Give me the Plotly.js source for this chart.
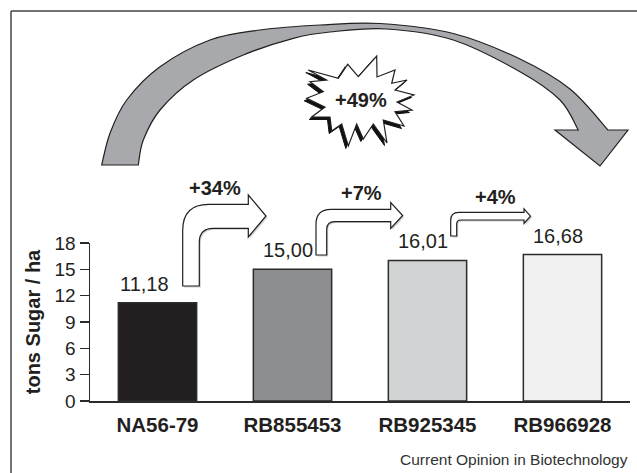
<!DOCTYPE html>
<html>
<head>
<meta charset="utf-8">
<script src="https://cdn.plot.ly/plotly-3.0.1.min.js"></script>
<style>html,body{margin:0;padding:0;background:#fff;}#chart{width:637px;height:473px;}</style>
</head>
<body>
<div id="chart"></div>
<script>
// ---- data ----
const varieties = ['NA56-79', 'RB855453', 'RB925345', 'RB966928'];
const yields = [11.18, 15.00, 16.01, 16.68];
const yieldLabels = ['11,18', '15,00', '16,01', '16,68'];
const stepGains = ['+34%', '+7%', '+4%'];
const totalGain = '+49%';
const yTickVals = [0, 3, 6, 9, 12, 15, 18];
const yTitle = 'tons Sugar / ha';
const footer = 'Current Opinion in Biotechnology';

// ---- styling / layout helpers ----
const barColors = ['#231f20', '#8d8e90', '#d1d2d4', '#f1f1f2'];
const FONT = 'Arial, "Liberation Sans", Helvetica, sans-serif';
const W = 637, H = 473, ML = 90, MR = 7, MT = 243, MB = 72;
const PW = W - ML - MR, PH = H - MT - MB;
const X = px => (px - ML) / PW;
const Y = py => (H - MB - py) / PH;

function buildPath(segs) {
  return segs.map(s => {
    const c = s[0];
    if (c === 'Z') return 'Z';
    const out = [];
    for (let i = 1; i < s.length; i += 2) out.push(X(s[i]).toFixed(5) + ',' + Y(s[i + 1]).toFixed(5));
    return c + out.join(' ');
  }).join(' ');
}
function smoothSegs(pts) {
  const segs = [];
  for (let i = 0; i < pts.length - 1; i++) {
    const p0 = pts[Math.max(0, i - 1)], p1 = pts[i], p2 = pts[i + 1], p3 = pts[Math.min(pts.length - 1, i + 2)];
    segs.push(['C',
      p1[0] + (p2[0] - p0[0]) / 6, p1[1] + (p2[1] - p0[1]) / 6,
      p2[0] - (p3[0] - p1[0]) / 6, p2[1] - (p3[1] - p1[1]) / 6,
      p2[0], p2[1]]);
  }
  return segs;
}

// big curved arrow
const outerPts = [[101.7,165],[110,133.3],[126.7,100],[160,66.7],[210,40],[260,30],[320,25],[380,23.5],[453.3,33.5],[520,59],[570,89],[608,130]];
const innerPts = [[138.3,165],[143.3,140],[160,110],[193.3,80],[243.3,55],[293.3,38.3],[330,32],[386.7,29],[453.3,40],[520,71.7],[560,100],[578.3,130]];
const innerRev = innerPts.slice().reverse();
const bigArrowSegs = [['M', outerPts[0][0], outerPts[0][1]]]
  .concat(smoothSegs(outerPts))
  .concat([['L', 628, 130], ['L', 600, 166], ['L', 555, 130], ['L', innerRev[0][0], innerRev[0][1]]])
  .concat(smoothSegs(innerRev))
  .concat([['Z']]);

// starburst
const starPts = [[308.3,70],[338.3,78.3],[347.7,64.3],[358.3,76.7],[376.7,56],[377,77],[395,70],[391.7,83.3],[407,80],[395,90],[414,95],[397,102],[412,110],[395,111.7],[404,126],[383.3,120],[387,143],[373.3,124],[363.3,139],[356.7,124],[348.3,146],[341.7,124],[331.7,131],[330,117],[311.7,117],[325,107],[306.7,98.3],[323.3,91.7],[310,81.7],[326.7,80]];
function starSegs(dx, dy) {
  const s = starPts.map((p, i) => [i === 0 ? 'M' : 'L', p[0] + dx, p[1] + dy]);
  s.push(['Z']);
  return s;
}

// bent step arrows
function bentArrow(a, dx, dy) {
  const x0 = a.x0 + dx, yb = a.yb + dy, yt = a.yt + dy, xh = a.xh + dx, xt = a.xt + dx, yc = a.yc + dy;
  const xi = x0 + a.sw, yi = yt + a.th;
  return [
    ['M', x0, yb], ['L', x0, yt + a.r], ['Q', x0, yt, x0 + a.r, yt],
    ['L', xh, yt], ['L', xh, yc - a.hh], ['L', xt, yc], ['L', xh, yc + a.hh], ['L', xh, yi],
    ['L', xi + a.r2, yi], ['Q', xi, yi, xi, yi + a.r2], ['L', xi, yb], ['Z']
  ];
}
const stepArrows = [
  {x0: 182.7, yb: 286, sw: 16.6, yt: 204.3, th: 24, xh: 248.3, yc: 216, hh: 21, xt: 266, r: 26, r2: 14, lx: 215, ly: 188},
  {x0: 316, yb: 255, sw: 10.7, yt: 209.3, th: 12.3, xh: 390.7, yc: 215.5, hh: 13, xt: 402.7, r: 15, r2: 8, lx: 361, ly: 193},
  {x0: 450.7, yb: 236, sw: 6, yt: 212.3, th: 7.7, xh: 524, yc: 216.2, hh: 7.3, xt: 530.5, r: 8, r2: 4, lx: 495, ly: 197}
];

const shapes = [];
// frame (left + top only; the reference is cropped at right/bottom)
shapes.push({type: 'line', xref: 'paper', yref: 'paper', x0: X(11), x1: X(11), y0: Y(H), y1: Y(11), line: {color: '#444', width: 1.5}});
shapes.push({type: 'line', xref: 'paper', yref: 'paper', x0: X(11), x1: X(W), y0: Y(11), y1: Y(11), line: {color: '#444', width: 1.5}});
// big arrow
shapes.push({type: 'path', xref: 'paper', yref: 'paper', path: buildPath(bigArrowSegs), fillcolor: '#a8a9ac', line: {color: '#231f20', width: 1.2}});
// starburst shadow + star
shapes.push({type: 'path', xref: 'paper', yref: 'paper', path: buildPath(starSegs(-2.5, 2.5)), fillcolor: '#111', line: {color: '#111', width: 1}});
shapes.push({type: 'path', xref: 'paper', yref: 'paper', path: buildPath(starSegs(0, 0)), fillcolor: '#ffffff', line: {color: '#231f20', width: 1.2}});
// step arrows (shadow + arrow)
stepArrows.forEach(a => {
  shapes.push({type: 'path', xref: 'paper', yref: 'paper', path: buildPath(bentArrow(a, 1.5, 1.5)), fillcolor: 'rgba(0,0,0,0.18)', line: {width: 0}});
  shapes.push({type: 'path', xref: 'paper', yref: 'paper', path: buildPath(bentArrow(a, 0, 0)), fillcolor: '#ffffff', line: {color: '#231f20', width: 1.2}});
});

const annotations = [];
yields.forEach((v, i) => {
  annotations.push({x: varieties[i], y: v, xref: 'x', yref: 'y', text: yieldLabels[i], showarrow: false,
    xanchor: 'center', yanchor: 'bottom', yshift: 6, xshift: i === 0 ? -13 : -5,
    font: {family: FONT, size: 20, color: '#231f20'}});
});
stepGains.forEach((g, i) => {
  const a = stepArrows[i];
  annotations.push({x: X(a.lx), y: Y(a.ly), xref: 'paper', yref: 'paper', text: '<b>' + g + '</b>', showarrow: false,
    xanchor: 'center', yanchor: 'middle', font: {family: FONT, size: 20, color: '#231f20'}});
});
annotations.push({x: X(361), y: Y(100), xref: 'paper', yref: 'paper', text: '<b>' + totalGain + '</b>', showarrow: false,
  xanchor: 'center', yanchor: 'middle', font: {family: FONT, size: 20, color: '#231f20'}});
annotations.push({x: X(630), y: Y(459), xref: 'paper', yref: 'paper', text: footer, showarrow: false,
  xanchor: 'right', yanchor: 'middle', font: {family: FONT, size: 15.5, color: '#333'}});

const trace = {
  type: 'bar', x: varieties, y: yields,
  marker: {color: barColors, line: {color: '#2b2b2b', width: 1.5}},
  hoverinfo: 'x+y', cliponaxis: false
};

const layout = {
  width: W, height: H,
  margin: {l: ML, r: MR, t: MT, b: MB, pad: 0},
  paper_bgcolor: '#ffffff', plot_bgcolor: '#ffffff',
  showlegend: false,
  bargap: 0.42,
  font: {family: FONT, color: '#231f20'},
  xaxis: {
    type: 'category', range: [-0.5, 3.5], showline: true, linecolor: '#2b2b2b', linewidth: 1.5,
    ticks: '', showgrid: false, zeroline: false, fixedrange: true,
    tickfont: {family: FONT, size: 20.5, color: '#231f20', weight: 'bold'},
    ticklabelstandoff: 5
  },
  yaxis: {
    range: [0, 18], tickvals: yTickVals, ticktext: yTickVals.map(String),
    showline: true, linecolor: '#2b2b2b', linewidth: 1.5,
    ticks: 'outside', ticklen: 9, tickwidth: 1.5, tickcolor: '#2b2b2b',
    showgrid: false, zeroline: false, fixedrange: true,
    tickfont: {family: FONT, size: 19, color: '#231f20'},
    title: {text: '<b>' + yTitle + '</b>', font: {family: FONT, size: 20, color: '#231f20'}, standoff: 8},
    automargin: false
  },
  shapes: shapes,
  annotations: annotations
};

Plotly.newPlot('chart', [trace], layout, {displayModeBar: false, staticPlot: true});
</script>
</body>
</html>
